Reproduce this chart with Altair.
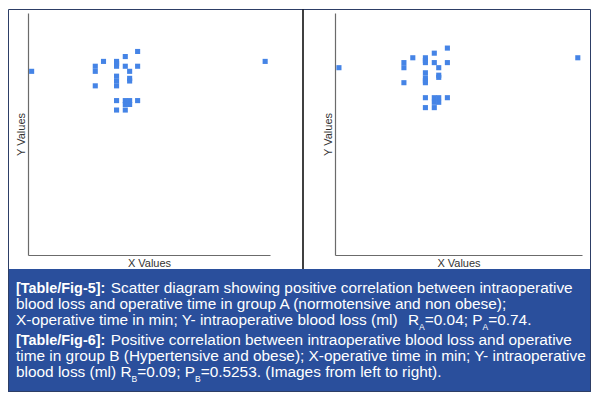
import altair as alt
import pandas as pd

# ---- data ----
left_x = [1.5, 27.8, 27.8, 31.2, 36.6, 36.6, 36.6, 40.2, 40.2, 45.3, 45.3, 42.0, 36.6, 36.6,
          36.6, 42.0, 42.0, 27.8, 36.6, 40.2, 42.0, 40.2, 42.0, 45.3, 36.6, 40.2, 98.0]
left_y = [75.9, 78.0, 75.9, 80.0, 80.0, 79.1, 78.0, 82.0, 78.0, 84.1, 78.0, 75.9, 73.9, 71.9,
          69.9, 73.0, 71.9, 69.9, 63.8, 63.8, 63.8, 62.2, 62.2, 63.8, 59.9, 59.9, 80.0]

right_x = [1.6, 27.9, 27.9, 31.5, 36.6, 36.6, 36.6, 40.2, 40.2, 45.5, 45.5, 42.0, 36.6, 36.6,
           36.6, 36.6, 42.0, 42.0, 27.9, 36.6, 40.2, 42.0, 40.2, 42.0, 45.5, 36.6, 40.2, 98.3]
right_y = [77.4, 79.5, 77.4, 81.5, 81.5, 80.4, 79.5, 83.4, 79.5, 85.5, 79.5, 77.4, 75.3, 73.2,
           72.0, 71.2, 74.3, 73.4, 71.2, 65.0, 65.0, 65.0, 63.1, 63.1, 65.0, 60.9, 60.9, 81.5]

x_title = "X Values"
y_title = "Y Values"

caption_lines = [
    [("[Table/Fig-5]:", "b"), (" ", "gap"),
     ("Scatter diagram showing positive correlation between intraoperative", "n")],
    [("blood loss and operative time in group A (normotensive and non obese);", "n")],
    [("X-operative time in min; Y- intraoperative blood loss (ml)", "n"), ("  ", "gap"),
     ("R", "n"), ("A", "s"), ("=0.04; P", "n"), ("A", "s"), ("=0.74.", "n")],
    [("[Table/Fig-6]:", "b"), (" ", "gap"),
     ("Positive correlation between intraoperative blood loss and operative", "n")],
    [("time in group B (Hypertensive and obese); X-operative time in min; Y- intraoperative", "n")],
    [("blood loss (ml)", "n"), (" ", "gap"), ("R", "n"), ("B", "s"), ("=0.09; P", "n"), ("B", "s"),
     ("=0.5253. (Images from left to right).", "n")],
]

# ---- styling / layout ----
FONT = "Liberation Sans"
NS, BS, SS = 15.4, 14.4, 8.5
SUB_DY = 5
BLUE = "#2a4f9c"
FRAME = "#2d3e66"
PT = "#4584e6"

REG = {' ': 278, '(': 333, ')': 333, '-': 333, ';': 278, '.': 278, ',': 278, '=': 584,
       'A': 667, 'B': 667, 'H': 722, 'I': 278, 'P': 667, 'R': 722, 'S': 667, 'X': 667, 'Y': 667,
       'a': 556, 'b': 556, 'c': 500, 'd': 556, 'e': 556, 'f': 278, 'g': 556, 'h': 556, 'i': 222,
       'k': 500, 'l': 222, 'm': 833, 'n': 556, 'o': 556, 'p': 556, 'r': 333, 's': 500, 't': 278,
       'u': 556, 'v': 500, 'w': 722, 'y': 500}
for d in "0123456789":
    REG[d] = 556
BOLD = {'[': 333, 'T': 611, 'a': 556, 'b': 611, 'l': 278, 'e': 556, '/': 278, 'F': 611, 'i': 278,
        'g': 611, '-': 333, '5': 556, '6': 556, ']': 333, ':': 333}


def width(t, kind):
    if kind == "b":
        return sum(BOLD.get(c, 556) for c in t) / 1000 * BS
    size = SS if kind == "s" else NS
    return sum(REG.get(c, 556) for c in t) / 1000 * size


one = alt.Data(values=[{"k": 1}])

PW, PH = 242, 242
X0 = -12
baselines = [279.5, 295.5, 312.0, 331.5, 347.8, 364.4]

layers = []
# caption box
layers.append(alt.Chart(one).mark_rect(color=BLUE).encode(
    x=alt.value(-20), x2=alt.value(563), y=alt.value(256), y2=alt.value(379)))
# outer frame
layers.append(alt.Chart(one).mark_rect(fillOpacity=0, stroke=FRAME, strokeWidth=1).encode(
    x=alt.value(-19.5), x2=alt.value(562.5), y=alt.value(-3.5), y2=alt.value(378.5)))
# divider between panels
layers.append(alt.Chart(one).mark_rule(color="black", strokeWidth=1.5).encode(
    x=alt.value(275), y=alt.value(-3.5), y2=alt.value(256)))

for line, yb in zip(caption_lines, baselines):
    x = X0
    for t, kind in line:
        if kind != "gap":
            size = {"b": BS, "n": NS, "s": SS}[kind]
            layers.append(alt.Chart(one).mark_text(
                text=t, font=FONT, fontSize=size,
                fontWeight="bold" if kind == "b" else "normal",
                color="white", align="left", baseline="alphabetic").encode(
                x=alt.value(x), y=alt.value(yb + (SUB_DY if kind == "s" else 0))))
        x += width(t, "n" if kind == "gap" else kind)


def axis(title):
    return alt.Axis(title=title, labels=False, ticks=False, grid=False, domain=True,
                    domainColor="#6b6b6b", domainWidth=1.2, titleFont=FONT,
                    titleFontSize=11, titleFontWeight="normal", titleColor="#333333",
                    titlePadding=2)


def points(xs, ys):
    df = pd.DataFrame({"x": xs, "y": ys})
    return alt.Chart(df).mark_square(size=26, color=PT, opacity=1).encode(
        x=alt.X("x:Q", scale=alt.Scale(domain=[0, 100], nice=False, zero=False), axis=axis(x_title)),
        y=alt.Y("y:Q", scale=alt.Scale(domain=[0, 100], nice=False, zero=False), axis=axis(y_title)),
    )


left = alt.layer(*layers, points(left_x, left_y)).properties(width=PW, height=PH)
right = points(right_x, right_y).properties(width=247, height=PH)

chart = alt.hconcat(left, right, spacing=65, bounds="flush").properties(
    padding=0, background="white").configure_view(stroke=None)

chart.save("out.html", embed_options={"renderer": "svg", "actions": False})
